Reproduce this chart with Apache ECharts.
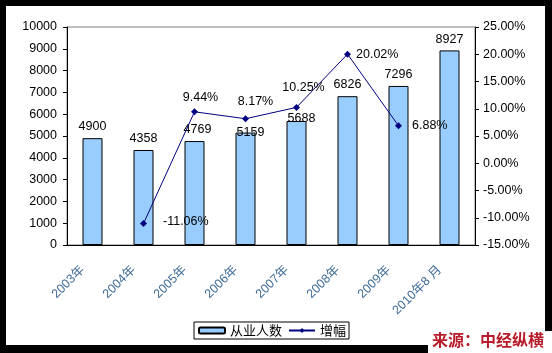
<!DOCTYPE html>
<html><head><meta charset="utf-8">
<script src="https://cdn.jsdelivr.net/npm/echarts@6/dist/echarts.min.js"></script>
<style>html,body{margin:0;padding:0;background:#000;}#c{width:552px;height:353px;}</style>
</head><body><div id="c"></div>
<script>
const categories = ['2003年','2004年','2005年','2006年','2007年','2008年','2009年','2010年8 月'];
const employees = [4900, 4358, 4769, 5159, 5688, 6826, 7296, 8927];
const growth = [null, -11.06, 9.44, 8.17, 10.25, 20.02, 6.88, null];
const leftTicks = {min: 0, max: 10000, interval: 1000};
const rightTicks = {min: -15, max: 25, interval: 5};

const FONT = 'Liberation Sans, Arial, Noto Sans CJK SC, sans-serif';
const barLabelOffsets = [[0,0],[0,0],[3,0],[5,11],[5,9],[0,0],[0,0],[0,0]];
const lineLabelCfg = [null,
  {position:'right', distance:16, offset:[0,-2]},
  {position:'top', distance:5, offset:[6,0]},
  {position:'top', distance:5, offset:[10,-2]},
  {position:'top', distance:5, offset:[7,-5]},
  {position:'right', distance:5, offset:[0,0]},
  {position:'right', distance:10, offset:[0,0]},
  null];

const chart = echarts.init(document.getElementById('c'), null, {renderer:'canvas'});
chart.setOption({
  backgroundColor: '#000',
  animation: false,
  textStyle: {fontFamily: FONT},
  graphic: [
    {type:'rect', z:-10, silent:true, shape:{x:6,y:6,width:539,height:339}, style:{fill:'#fff'}},
    {type:'rect', z:-10, silent:true, shape:{x:428,y:331,width:124,height:22}, style:{fill:'#fff'}},
    {type:'text', z:10, right:8, top:332, style:{text:'来源：中经纵横', fill:'#b81c2a', font:'bold 16px "Noto Sans CJK SC", sans-serif', shadowColor:'rgba(80,80,80,0.7)', shadowOffsetX:1, shadowOffsetY:1, shadowBlur:1}}
  ],
  grid: {left:67, right:77, top:27, bottom:108, show:true, borderColor:'#808080', borderWidth:1, backgroundColor:'transparent'},
  legend: {
    left:194, top:322, itemWidth:26, itemHeight:6, itemGap:6,
    borderColor:'#000', borderWidth:1, padding:[2,3,2,4], backgroundColor:'#fff',
    textStyle:{fontSize:13, color:'#000', fontFamily:'Noto Sans CJK SC, sans-serif'},
    data:['从业人数','增幅']
  },
  xAxis: {
    type:'category', data:categories,
    axisLine:{lineStyle:{color:'#000', width:1}},
    axisTick:{inside:true, length:4, lineStyle:{color:'#000'}},
    axisLabel:{rotate:45, margin:13, padding:[0,14,0,0], fontSize:12.5, color:'#3f6c98', fontFamily:FONT}
  },
  yAxis: [
    {type:'value', min:leftTicks.min, max:leftTicks.max, interval:leftTicks.interval,
     axisLine:{show:true, lineStyle:{color:'#000'}},
     axisTick:{show:true, length:4, lineStyle:{color:'#000'}},
     splitLine:{show:false},
     axisLabel:{margin:10, fontSize:12.5, color:'#000', fontFamily:FONT, formatter: v => String(v)}},
    {type:'value', min:rightTicks.min, max:rightTicks.max, interval:rightTicks.interval, position:'right',
     axisLine:{show:true, lineStyle:{color:'#000'}},
     axisTick:{show:true, length:4, lineStyle:{color:'#000'}},
     splitLine:{show:false},
     axisLabel:{margin:8, fontSize:12.5, color:'#000', fontFamily:FONT, formatter: v => v.toFixed(2) + '%'}}
  ],
  series: [
    {name:'从业人数', type:'bar', barWidth:20, yAxisIndex:0,
     itemStyle:{color:'#99CCFF', borderColor:'#000', borderWidth:1},
     label:{show:true, position:'top', distance:5, fontSize:12.5, color:'#000', fontFamily:FONT},
     data: employees.map((v,i) => ({value:v, label:{offset:barLabelOffsets[i]}}))},
    {name:'增幅', type:'line', yAxisIndex:1, z:5,
     symbol:'diamond', symbolSize:7, showSymbol:true,
     lineStyle:{color:'#000080', width:1}, itemStyle:{color:'#000080'},
     label:{show:true, fontSize:12.5, color:'#000', fontFamily:FONT, formatter: p => p.value.toFixed(2) + '%'},
     data: growth.map((v,i) => v === null ? null : ({value:v, label:lineLabelCfg[i]}))}
  ]
});
</script></body></html>
